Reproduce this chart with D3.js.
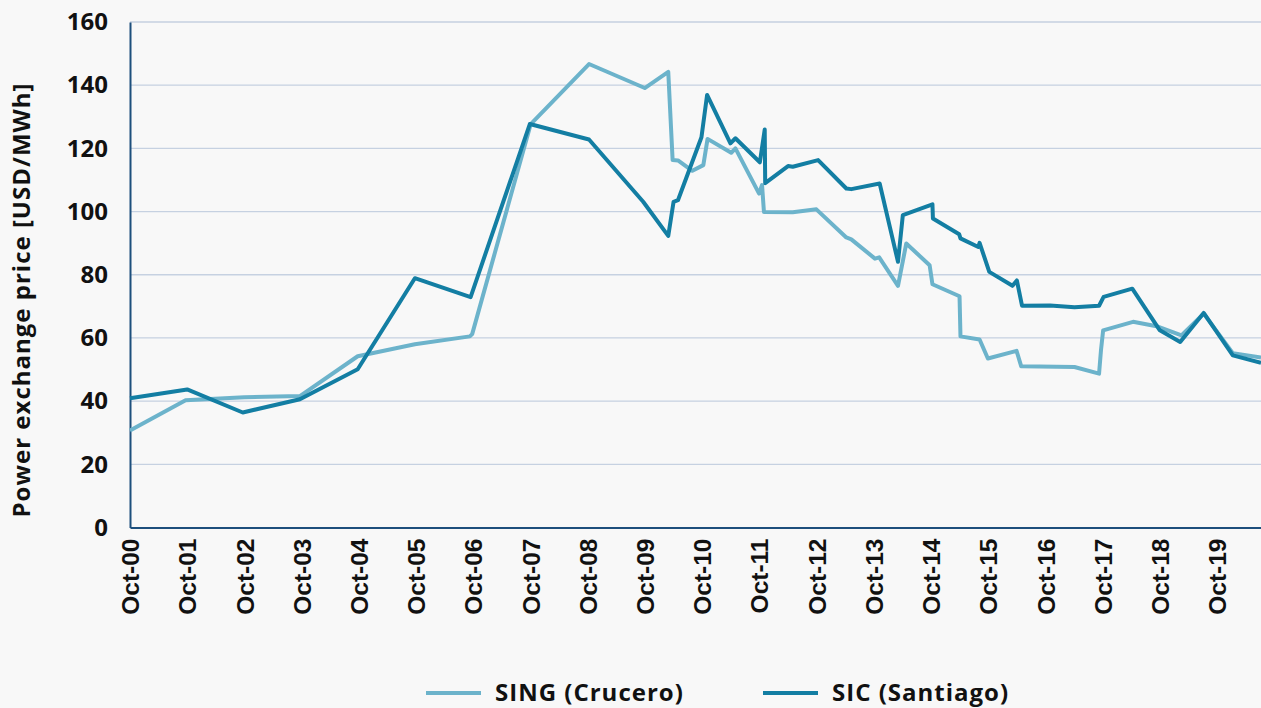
<!DOCTYPE html>
<html>
<head>
<meta charset="utf-8">
<script src="https://cdn.jsdelivr.net/npm/d3@7"></script>
<style>
  body { margin: 0; background: #f8f8f8; }
  svg { display: block; }
</style>
</head>
<body>
<script>
// Power exchange prices, SING (Crucero) vs SIC (Santiago)

var svg_width = 1261;
var svg_height = 708;
var margin = {left: 130, right: 0, top: 22, bottom: 181};
var light_color = "#6cb3cb";
var dark_color = "#137ea3";

var sing_dates = ["2000-10-01","2001-09-21","2002-10-01","2003-09-21","2004-09-24","2005-09-24","2006-09-10","2006-09-25",
  "2007-10-04","2008-10-10","2009-10-01","2010-02-28","2010-03-28","2010-05-01","2010-08-01","2010-10-10","2010-11-06",
  "2011-04-06","2011-05-03","2011-10-01","2011-10-20","2011-11-01","2012-05-03","2012-10-01","2013-04-10","2013-05-12",
  "2013-10-10","2013-11-06","2014-03-06","2014-04-28","2014-09-24","2014-10-12","2015-04-03","2015-04-09","2015-08-09",
  "2015-10-01","2016-04-01","2016-05-01","2017-04-06","2017-09-10","2017-09-22","2017-10-06","2018-04-15","2018-09-12",
  "2019-02-18","2019-07-10","2020-01-12","2020-07-10"];
var sing_values = [30.7, 40.3, 41.2, 41.6, 54.2, 58.0, 60.5, 61.2,
  127.7, 146.7, 139.1, 144.2, 116.3, 116.2, 112.9, 114.7, 123.0,
  118.6, 120.0, 105.7, 108.4, 99.9, 99.8, 100.7, 91.8, 91.2,
  85.1, 85.5, 76.5, 89.9, 83.0, 77.0, 73.2, 60.5, 59.5,
  53.5, 55.9, 51.0, 50.8, 48.7, 56.0, 62.4, 65.1, 63.7,
  60.8, 67.7, 55.2, 53.8];

var sic_dates = ["2000-10-01","2001-10-01","2002-09-21","2003-09-21","2004-09-24","2005-09-24","2006-09-15","2007-09-28",
  "2008-10-10","2009-09-21","2010-02-28","2010-04-03","2010-05-01","2010-09-28","2010-11-03","2011-04-01","2011-05-03",
  "2011-10-06","2011-11-06","2011-11-09","2012-04-03","2012-05-03","2012-10-12","2013-04-10","2013-05-12","2013-11-09",
  "2014-03-06","2014-04-06","2014-10-12","2014-10-15","2015-04-01","2015-04-09","2015-08-01","2015-08-09","2015-10-10",
  "2016-03-06","2016-04-03","2016-05-06","2016-11-01","2017-04-06","2017-09-10","2017-10-09","2018-04-10","2018-10-03",
  "2019-02-10","2019-07-10","2020-01-12","2020-07-10"];
var sic_values = [40.9, 43.7, 36.4, 40.6, 50.1, 78.9, 72.9, 127.7,
  122.8, 103.1, 92.3, 103.1, 103.6, 123.5, 136.9, 121.6, 123.2,
  115.6, 126.0, 109.0, 114.4, 114.2, 116.3, 107.3, 107.1, 108.9,
  84.1, 98.9, 102.3, 97.8, 92.8, 91.5, 88.8, 90.1, 80.9,
  76.5, 78.2, 70.2, 70.3, 69.7, 70.2, 73.0, 75.6, 62.4,
  58.7, 67.9, 54.5, 52.1];

var series_names = ["SING (Crucero)", "SIC (Santiago)"];
var y_ticks = [0, 20, 40, 60, 80, 100, 120, 140, 160];
var x_tick_dates = ["2000-10-01","2001-10-01","2002-10-01","2003-10-01","2004-10-01","2005-10-01","2006-10-01",
  "2007-10-01","2008-10-01","2009-10-01","2010-10-01","2011-10-01","2012-10-01","2013-10-01","2014-10-01",
  "2015-10-01","2016-10-01","2017-10-01","2018-10-01","2019-10-01"];
var x_tick_labels = ["Oct-00","Oct-01","Oct-02","Oct-03","Oct-04","Oct-05","Oct-06","Oct-07","Oct-08","Oct-09",
  "Oct-10","Oct-11","Oct-12","Oct-13","Oct-14","Oct-15","Oct-16","Oct-17","Oct-18","Oct-19"];

var parseDate = d3.timeParse("%Y-%m-%d");

function makeSeries(dates, values)
{
  return dates.map(function(d, i) { return {date: parseDate(d), value: values[i]}; });
}

function makeGraph()
{
  var svg = d3.select("body").append("svg")
              .attr("width", svg_width)
              .attr("height", svg_height);

  svg.append("rect")
      .attr("width", svg_width)
      .attr("height", svg_height)
      .attr("fill", "#f8f8f8");

  var x = d3.scaleTime()
            .domain([parseDate("2000-10-01"), parseDate("2020-07-10")])
            .range([margin.left, svg_width - margin.right]);

  var y = d3.scaleLinear()
            .domain([0, 160])
            .range([svg_height - margin.bottom + 0.5, margin.top]);

  // Gridlines
  svg.append("g").selectAll("line.grid").data(y_ticks.slice(1))
      .enter().append("line")
      .attr("class", "grid")
      .attr("x1", margin.left)
      .attr("x2", svg_width)
      .attr("y1", function(d) { return y(d); })
      .attr("y2", function(d) { return y(d); })
      .attr("stroke", "#c6d1e1")
      .attr("stroke-width", 1.3);

  // Y axis
  var yAxis = d3.axisLeft(y).tickValues(y_ticks).tickSize(0).tickPadding(22);
  var yg = svg.append("g")
              .attr("transform", "translate(" + margin.left + ",0)")
              .call(yAxis);
  yg.select(".domain").attr("stroke", "#1d4f7c").attr("stroke-width", 2);
  yg.selectAll("text")
      .attr("font-family", "'Open Sans', 'Noto Sans', sans-serif")
      .attr("font-weight", "bold")
      .attr("font-size", 24)
      .attr("fill", "#111");

  // X axis
  var tickDates = x_tick_dates.map(parseDate);
  var xAxis = d3.axisBottom(x).tickValues(tickDates).tickSize(0)
                .tickFormat(function(d, i) { return x_tick_labels[i]; });
  var xg = svg.append("g")
              .attr("transform", "translate(0," + y(0) + ")")
              .call(xAxis);
  xg.select(".domain").attr("stroke", "#1d4f7c").attr("stroke-width", 2);
  xg.selectAll("text")
      .attr("font-family", "'Liberation Sans', Arial, sans-serif")
      .attr("font-weight", "bold")
      .attr("font-size", 24.5)
      .attr("fill", "#111")
      .attr("text-anchor", "end")
      .attr("transform", "rotate(-90)")
      .attr("x", -11)
      .attr("y", 0)
      .attr("dy", "0.36em");

  // Lines
  var line = d3.line()
               .x(function(d) { return x(d.date); })
               .y(function(d) { return y(d.value); });

  var allSeries = [
    {data: makeSeries(sing_dates, sing_values), color: light_color},
    {data: makeSeries(sic_dates, sic_values), color: dark_color}
  ];

  svg.append("g").selectAll("path.series").data(allSeries)
      .enter().append("path")
      .attr("class", "series")
      .attr("d", function(d) { return line(d.data); })
      .attr("fill", "none")
      .attr("stroke", function(d) { return d.color; })
      .attr("stroke-width", 4)
      .attr("stroke-linejoin", "round");

  // Y title
  svg.append("text")
      .attr("transform", "translate(30," + 300 + ") rotate(-90)")
      .attr("text-anchor", "middle")
      .attr("font-family", "'Open Sans', 'Noto Sans', sans-serif")
      .attr("font-weight", "bold")
      .attr("font-size", 24)
      .attr("letter-spacing", 1)
      .attr("fill", "#111")
      .text("Power exchange price [USD/MWh]");

  // Legend
  var legendX = [426, 763];
  var legend = svg.append("g").selectAll("g.legend").data(series_names)
                  .enter().append("g")
                  .attr("class", "legend")
                  .attr("transform", function(d, i) { return "translate(" + legendX[i] + ",693)"; });
  legend.append("line")
        .attr("x1", 0).attr("x2", 55)
        .attr("stroke", function(d, i) { return allSeries[i].color; })
        .attr("stroke-width", 4);
  legend.append("text")
        .attr("x", 69)
        .attr("dy", "0.35em")
        .attr("font-family", "'Open Sans', 'Noto Sans', sans-serif")
        .attr("font-weight", "bold")
        .attr("font-size", 24)
        .attr("letter-spacing", 1)
        .attr("fill", "#111")
        .text(function(d) { return d; });
}

makeGraph();
</script>
</body>
</html>
